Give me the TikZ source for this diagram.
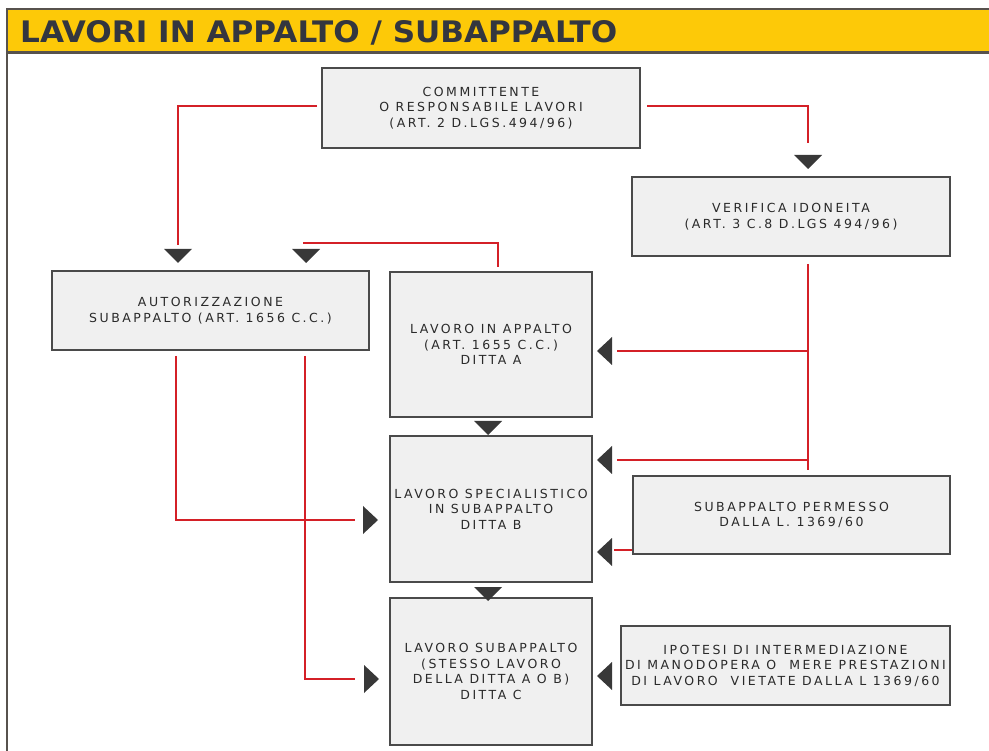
\documentclass[tikz,border=0pt]{standalone}
\usepackage{fontspec}
\setmainfont{DejaVu Sans}
\newfontfamily\pixfont[LetterSpace=20]{DejaVu Sans}
\usetikzlibrary{calc}
\definecolor{barYellow}{HTML}{FDC908}
\definecolor{framec}{HTML}{57524D}
\definecolor{rl}{HTML}{D42027}
\definecolor{bfill}{HTML}{F0F0F0}
\definecolor{bdraw}{HTML}{4A4A4A}
\definecolor{tric}{HTML}{383838}
\definecolor{txtc}{HTML}{2A2A2A}
\definecolor{titlec}{HTML}{33363F}
\newcommand\tridown[1]{\fill[tric] ($(#1)+(-14,0)$) -- ($(#1)+(14,0)$) -- ($(#1)+(0,14)$) -- cycle;}
\newcommand\trileft[1]{\fill[tric] (#1) -- ($(#1)+(15,-14)$) -- ($(#1)+(15,14)$) -- cycle;}
\newcommand\triright[1]{\fill[tric] (#1) -- ($(#1)+(-15,-14)$) -- ($(#1)+(-15,14)$) -- cycle;}
\begin{document}
\begin{tikzpicture}[x=1pt,y=-1pt,
  box/.style={draw=bdraw,line width=2pt,fill=bfill,align=center,
    font=\pixfont\fontsize{12.5}{15.5}\selectfont,text=txtc,inner sep=0pt},
  redline/.style={draw=rl,line width=1.8pt}]
\useasboundingbox (0,0) rectangle (989,751);
% frame and title bar
\fill[fill=barYellow] (7,10) rectangle (989,51);
\fill[fill=framec] (6,8) rectangle (989,10.5);
\fill[fill=framec] (6,51) rectangle (989,54.5);
\fill[fill=framec] (5.8,8) rectangle (8.3,751);
\node[anchor=west,inner sep=0pt,text=titlec] (title) at (20,33)
  {\resizebox{597pt}{22pt}{\bfseries LAVORI IN APPALTO / SUBAPPALTO}};
% boxes
\node[box,minimum width=318pt,minimum height=80pt] (comm) at (481,108)
  {COMMITTENTE\\O RESPONSABILE LAVORI\\(ART. 2 D.LGS.494/96)};
\node[box,minimum width=318pt,minimum height=79pt] (ver) at (791,216.5)
  {VERIFICA IDONEITA\\(ART. 3 C.8 D.LGS 494/96)};
\node[box,minimum width=317pt,minimum height=79pt] (aut) at (210.5,310.5)
  {AUTORIZZAZIONE\\SUBAPPALTO (ART. 1656 C.C.)};
\node[box,minimum width=202pt,minimum height=145pt] (lavA) at (491,344.5)
  {LAVORO IN APPALTO\\(ART. 1655 C.C.)\\DITTA A};
\node[box,minimum width=202pt,minimum height=146pt] (lavB) at (491,509)
  {LAVORO SPECIALISTICO\\IN SUBAPPALTO\\DITTA B};
\node[box,minimum width=317pt,minimum height=78pt] (perm) at (791.5,515)
  {SUBAPPALTO PERMESSO\\DALLA L. 1369/60};
\node[box,minimum width=202pt,minimum height=147pt] (lavC) at (491,671.5)
  {LAVORO SUBAPPALTO\\(STESSO LAVORO\\DELLA DITTA A O B)\\DITTA C};
\node[box,minimum width=329pt,minimum height=79pt] (ipo) at (785.5,665.5)
  {IPOTESI DI INTERMEDIAZIONE\\DI MANODOPERA O\ \ MERE PRESTAZIONI\\DI LAVORO\ \ VIETATE DALLA L 1369/60};
% arrowhead positions
\coordinate (tA) at (178,249);
\coordinate (tB2) at (306,249);
\coordinate (tV) at (808,155);
\coordinate (tAB) at (488,421);
\coordinate (tBC) at (488,587);
\coordinate (tR1) at (378,520);
\coordinate (tR2) at (379,679);
\coordinate (tL1) at (597,351);
\coordinate (tL2) at (597,460);
\coordinate (tL3) at (597,552);
\coordinate (tL4) at (597,676);
\coordinate (j1) at (808,351);
\coordinate (j2) at (808,460);
\coordinate (vend) at (808,470);
\coordinate (p3) at (614,550);
% red connectors
\draw[redline] ($(comm.west)+(-4,-2)$) -| ($(tA)+(0,-4)$);
\draw[redline] ($(comm.east)+(6,-2)$) -| ($(tV)+(0,-12)$);
\draw[redline] ($(lavA.north)+(7,-4)$) |- ($(tB2)+(-3,-6)$);
\draw[redline] ($(aut.south -| tA)+(-2,5)$) |- ($(tR1)+(-23,0)$);
\draw[redline] ($(aut.south -| tB2)+(-1,5)$) |- ($(tR2)+(-24,0)$);
\draw[redline] ($(ver.south -| tV)+(0,7)$) -- (vend);
\draw[redline] (j1) -- ($(tL1)+(20,0)$);
\draw[redline] (j2) -- ($(tL2)+(20,0)$);
\draw[redline] (perm.west |- p3) -- (p3);
% arrowheads
\tridown{tA}
\tridown{tB2}
\tridown{tV}
\tridown{tAB}
\tridown{tBC}
\triright{tR1}
\triright{tR2}
\trileft{tL1}
\trileft{tL2}
\trileft{tL3}
\trileft{tL4}
\end{tikzpicture}
\end{document}
